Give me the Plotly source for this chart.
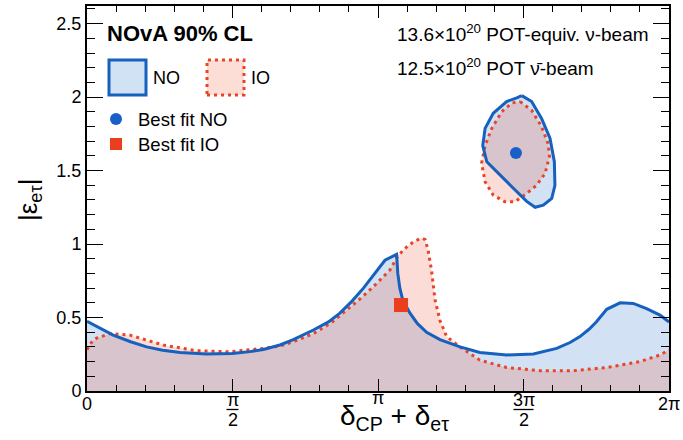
import numpy as np
import plotly.graph_objects as go

PI = np.pi

# ---- data (x in units of pi, y = |eps_etau|) ----
no_main_x = [0.0, 0.045, 0.09, 0.15, 0.205, 0.26, 0.32, 0.41, 0.5, 0.56, 0.606, 0.663, 0.709, 0.778,
             0.83, 0.869, 0.91, 0.95, 0.984, 1.024, 1.064, 1.068, 1.075, 1.085, 1.11, 1.135, 1.167,
             1.213, 1.282, 1.35, 1.442, 1.534, 1.614, 1.66, 1.694, 1.725, 1.75, 1.786, 1.832, 1.877,
             1.923, 1.969, 2.0]
no_main_y = [0.475, 0.425, 0.38, 0.335, 0.30, 0.278, 0.262, 0.252, 0.256, 0.268, 0.283, 0.313, 0.35,
             0.415, 0.47, 0.53, 0.61, 0.70, 0.79, 0.89, 0.93, 0.80, 0.70, 0.62, 0.53, 0.46, 0.40,
             0.35, 0.30, 0.262, 0.245, 0.252, 0.29, 0.33, 0.37, 0.42, 0.47, 0.556, 0.60, 0.596,
             0.56, 0.517, 0.47]

io_main_x = [0.0, 0.015, 0.033, 0.079, 0.148, 0.262, 0.377, 0.491, 0.606, 0.663, 0.709, 0.778,
             0.84, 0.892, 0.94, 0.984, 1.041, 1.07, 1.099, 1.125, 1.15, 1.162, 1.172, 1.184, 1.196,
             1.213, 1.236, 1.282, 1.35, 1.442, 1.557, 1.671, 1.786, 1.9, 1.969, 2.0]
io_main_y = [0.28, 0.33, 0.36, 0.39, 0.38, 0.313, 0.274, 0.267, 0.29, 0.306, 0.335, 0.39,
             0.465, 0.55, 0.63, 0.71, 0.823, 0.925, 0.98, 1.02, 1.04, 1.03, 0.96, 0.82, 0.62,
             0.48, 0.37, 0.30, 0.21, 0.16, 0.138, 0.138, 0.16, 0.20, 0.245, 0.28]

no_isl_x = [1.494, 1.528, 1.562, 1.591, 1.606, 1.608, 1.597, 1.568, 1.54, 1.511, 1.465, 1.419,
            1.374, 1.36, 1.368, 1.396, 1.442, 1.477, 1.494]
no_isl_y = [2.01, 1.97, 1.855, 1.72, 1.56, 1.40, 1.31, 1.265, 1.25, 1.29, 1.38, 1.47,
            1.56, 1.67, 1.787, 1.89, 1.97, 1.995, 2.01]

io_isl_x = [1.488, 1.528, 1.562, 1.585, 1.589, 1.574, 1.545, 1.511, 1.471, 1.436, 1.396, 1.368,
            1.356, 1.368, 1.391, 1.425, 1.46, 1.488]
io_isl_y = [1.97, 1.91, 1.80, 1.68, 1.594, 1.48, 1.40, 1.344, 1.288, 1.288, 1.333, 1.424,
            1.55, 1.67, 1.787, 1.90, 1.96, 1.97]

best_no = (1.474, 1.62)
best_io = (1.079, 0.585)

x_tick_vals_pi = [0, 0.5, 1, 1.5, 2]
x_tick_numer = ["0", "π", "π", "3π", "2π"]
x_tick_denom = ["", "2", "", "2", ""]

# ---- styles ----
BLUE = "rgb(22,96,190)"
RED = "rgb(232,68,38)"
BLUE_FILL = "rgba(30,110,200,0.2)"
RED_FILL = "rgba(240,80,50,0.2)"
FONT = "Liberation Sans, Arial, sans-serif"
RED_DASH = "3px,4px"

def rad(a):
    return [v * PI for v in a]

fig = go.Figure()
# fills
fig.add_trace(go.Scatter(x=rad(no_main_x), y=no_main_y, mode="lines", fill="tozeroy",
                         fillcolor=BLUE_FILL, line=dict(color=BLUE, width=0), hoverinfo="skip"))
fig.add_trace(go.Scatter(x=rad(no_isl_x), y=no_isl_y, mode="lines", fill="toself",
                         fillcolor=BLUE_FILL, line=dict(color=BLUE, width=0), hoverinfo="skip"))
fig.add_trace(go.Scatter(x=rad(io_main_x), y=io_main_y, mode="lines", fill="tozeroy",
                         fillcolor=RED_FILL, line=dict(color=RED, width=0), hoverinfo="skip"))
fig.add_trace(go.Scatter(x=rad(io_isl_x), y=io_isl_y, mode="lines", fill="toself",
                         fillcolor=RED_FILL, line=dict(color=RED, width=0), hoverinfo="skip"))
# lines
fig.add_trace(go.Scatter(x=rad(io_main_x), y=io_main_y, mode="lines",
                         line=dict(color=RED, width=3, dash=RED_DASH)))
fig.add_trace(go.Scatter(x=rad(io_isl_x), y=io_isl_y, mode="lines",
                         line=dict(color=RED, width=3, dash=RED_DASH)))
fig.add_trace(go.Scatter(x=rad(no_main_x), y=no_main_y, mode="lines",
                         line=dict(color=BLUE, width=3)))
fig.add_trace(go.Scatter(x=rad(no_isl_x), y=no_isl_y, mode="lines",
                         line=dict(color=BLUE, width=3)))
# best fits
fig.add_trace(go.Scatter(x=[best_no[0] * PI], y=[best_no[1]], mode="markers",
                         marker=dict(symbol="circle", size=12, color="rgb(25,95,200)")))
fig.add_trace(go.Scatter(x=[best_io[0] * PI], y=[best_io[1]], mode="markers",
                         marker=dict(symbol="square", size=14, color="rgb(235,62,30)")))

# ---- layout geometry ----
W, H = 683, 440
L, R, T, B = 87, 669, 6, 391
def px(xp):
    return (xp - L) / (R - L)
def py(yp):
    return (B - yp) / (B - T)

fig.update_layout(
    width=W, height=H,
    margin=dict(l=L, r=W - R, t=T, b=H - B),
    paper_bgcolor="white", plot_bgcolor="white",
    showlegend=False,
    font=dict(family=FONT, size=17, color="black"),
)
fig.update_xaxes(range=[0, 2 * PI], tickmode="array", tickvals=rad(x_tick_vals_pi),
                 showticklabels=False, automargin=False,
                 ticks="inside", ticklen=12, tickwidth=1.3,
                 tickcolor="black", showline=True, linewidth=2, linecolor="black",
                 mirror="ticks", showgrid=False, zeroline=False,
                 minor=dict(tickmode="linear", tick0=0, dtick=PI / 10, ticks="inside",
                            ticklen=6, tickcolor="black", tickwidth=1.2, showgrid=False))
fig.update_yaxes(range=[0, 2.62], tickmode="linear", tick0=0, dtick=0.5, automargin=False,
                 ticks="inside", ticklen=16, tickwidth=1.3, tickcolor="black",
                 showline=True, linewidth=2, linecolor="black", mirror="ticks",
                 showgrid=False, zeroline=False, tickfont=dict(size=18),
                 minor=dict(tickmode="linear", tick0=0, dtick=0.1, ticks="inside",
                            ticklen=8, tickcolor="black", tickwidth=1.2, showgrid=False))

def ann(text, xp, yp, size, xanchor="left", angle=0, xref="paper", xval=None):
    return dict(text=text, xref=xref, yref="paper",
                x=(xval if xval is not None else px(xp)), y=py(yp),
                xanchor=xanchor, yanchor="middle", showarrow=False, textangle=angle,
                font=dict(size=size, family=FONT, color="black"))

shapes = []
annotations = []
# x tick labels (fractions of pi)
for v, num, den in zip(x_tick_vals_pi, x_tick_numer, x_tick_denom):
    if den:
        annotations.append(ann(num, 0, 400, 18, xanchor="center", xref="x", xval=v * PI))
        annotations.append(ann(den, 0, 420, 18, xanchor="center", xref="x", xval=v * PI))
        half = 6 if len(num) == 1 else 10
        shapes.append(dict(type="line", xref="x", yref="paper",
                           x0=v * PI - half * 2 * PI / (R - L), x1=v * PI + half * 2 * PI / (R - L),
                           y0=py(409.5), y1=py(409.5), line=dict(color="black", width=1.3)))
    else:
        yy = 398 if num == "π" else 404
        annotations.append(ann(num, 0, yy, 18, xanchor="center", xref="x", xval=v * PI))

# legend boxes
shapes.append(dict(type="rect", xref="paper", yref="paper", x0=px(109), x1=px(146),
                   y0=py(95), y1=py(60), fillcolor="rgb(209,226,244)",
                   line=dict(color=BLUE, width=3)))
shapes.append(dict(type="rect", xref="paper", yref="paper", x0=px(207), x1=px(244),
                   y0=py(95), y1=py(60), fillcolor="rgb(252,222,214)",
                   line=dict(color=RED, width=3, dash=RED_DASH)))
shapes.append(dict(type="circle", xref="paper", yref="paper", x0=px(110), x1=px(122),
                   y0=py(125), y1=py(113), fillcolor="rgb(25,95,200)", line=dict(width=0)))
shapes.append(dict(type="rect", xref="paper", yref="paper", x0=px(110), x1=px(122),
                   y0=py(150), y1=py(138), fillcolor="rgb(235,62,30)", line=dict(width=0)))
fig.update_layout(shapes=shapes)

annotations += [
    ann("<b>NOvA 90% CL</b>", 105, 33, 22),
    ann("NO", 151, 78, 18),
    ann("IO", 249, 78, 18),
    ann("Best fit NO", 136, 119, 18.5),
    ann("Best fit IO", 136, 144, 18.5),
    ann("13.6×10<sup>20</sup> POT-equiv. ν-beam", 395, 33, 19),
    ann("12.5×10<sup>20</sup> POT ν̄-beam", 395, 67, 19),
    ann("δ<sub>CP</sub> + δ<sub>eτ</sub>", 394, 418, 28, xanchor="center"),
    ann("|ε<sub>eτ</sub>|", 30, 200, 26, xanchor="center", angle=-90),
]
fig.update_layout(annotations=annotations)

fig.write_html("out.html")
